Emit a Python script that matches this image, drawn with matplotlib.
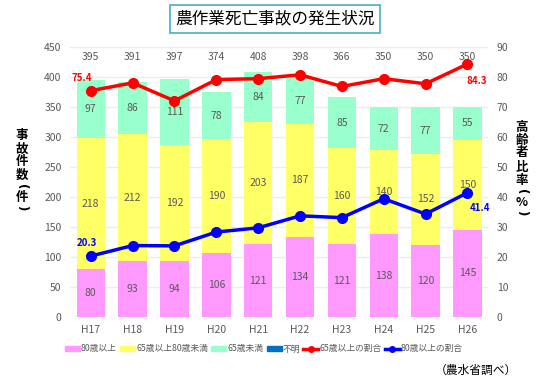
import matplotlib
matplotlib.use("Agg")
import matplotlib.pyplot as plt
from matplotlib.patches import Patch
from matplotlib.lines import Line2D
import numpy as np

plt.rcParams['font.family'] = ['Noto Sans CJK JP', 'DejaVu Sans']

years = ['H17', 'H18', 'H19', 'H20', 'H21', 'H22', 'H23', 'H24', 'H25', 'H26']
over80 = [80, 93, 94, 106, 121, 134, 121, 138, 120, 145]
age65_80 = [218, 212, 192, 190, 203, 187, 160, 140, 152, 150]
under65 = [97, 86, 111, 78, 84, 77, 85, 72, 77, 55]
unknown = [0, 0, 0, 0, 0, 0, 0, 0, 1, 0]
totals = [395, 391, 397, 374, 408, 398, 366, 350, 350, 350]
ratio65 = [75.4, 78.0, 72.0, 79.1, 79.4, 80.7, 76.8, 79.4, 77.7, 84.3]
ratio80 = [20.3, 23.8, 23.7, 28.3, 29.7, 33.7, 33.1, 39.4, 34.3, 41.4]

c_pink = '#FF99FF'
c_yel = '#FFFF66'
c_mint = '#99FFCC'
c_unk = '#0070C0'
c_red = '#FF0000'
c_blue = '#0000FF'
lab_col = '#595959'

W, H = 550, 381
fig = plt.figure(figsize=(5.5, 3.81), dpi=100)
ax = fig.add_axes([0.127, 0.168, 0.761, 0.709])
ax2 = ax.twinx()

x = np.arange(len(years))
w = 0.68
b1 = np.array(over80)
b2 = b1 + np.array(age65_80)
b3 = b2 + np.array(under65)
ax.bar(x, over80, w, color=c_pink, zorder=2)
ax.bar(x, age65_80, w, bottom=b1, color=c_yel, zorder=2)
ax.bar(x, under65, w, bottom=b2, color=c_mint, zorder=2)
ax.bar(x, unknown, w, bottom=b3, color=c_unk, zorder=2)

for i in range(len(years)):
    ax.text(x[i], over80[i] / 2, str(over80[i]), ha='center', va='center', fontsize=7.5, color=lab_col, zorder=5)
    ax.text(x[i], b1[i] + age65_80[i] / 2, str(age65_80[i]), ha='center', va='center', fontsize=7.5, color=lab_col, zorder=5)
    ax.text(x[i], b2[i] + under65[i] / 2, str(under65[i]), ha='center', va='center', fontsize=7.5, color=lab_col, zorder=5)
    ax.text(x[i], 433, str(totals[i]), ha='center', va='center', fontsize=7.5, color=lab_col, zorder=5)

ax.set_ylim(0, 450)
ax.set_yticks(range(0, 451, 50))
ax.set_xlim(-0.5, len(years) - 0.5)
ax.set_xticks(x)
ax.set_xticklabels(years)
ax.grid(axis='y', color='#ECECEC', linewidth=1, zorder=0)
ax.set_axisbelow(True)
for s in ax.spines.values():
    s.set_visible(False)
for s in ax2.spines.values():
    s.set_visible(False)
ax.tick_params(axis='both', length=0, labelsize=7.5, labelcolor=lab_col, pad=6)

ax2.set_ylim(0, 90)
ax2.set_yticks(range(0, 91, 10))
ax2.tick_params(axis='y', length=0, labelsize=7.5, labelcolor=lab_col, pad=6)

ax2.plot(x, ratio65, color=c_red, lw=2.5, marker='o', ms=7, zorder=6)
ax2.plot(x, ratio80, color=c_blue, lw=2.5, marker='o', ms=7, zorder=6)

def ann(val, xi, yi, off, col):
    ax2.annotate(f'{val}', xy=(xi, yi), xytext=off, textcoords='offset points',
                 ha='center', va='center', fontsize=7, color=col, fontweight='bold',
                 arrowprops=dict(arrowstyle='-', color='#BBBBBB', lw=0.6, shrinkA=2, shrinkB=3))

ann(ratio65[0], x[0], ratio65[0], (-6.5, 9), c_red)
ann(ratio65[-1], x[-1], ratio65[-1], (7, -12), c_red)
ann(ratio80[0], x[0], ratio80[0], (-3, 9.5), c_blue)
ann(ratio80[-1], x[-1], ratio80[-1], (9, -11), c_blue)

# vertical axis titles (stacked characters)
def vchar(ch, xx, yy):
    if ch in '()':
        fig.text(xx / W, 1 - yy / H, ch, ha='center', va='center', fontsize=8.5,
                 fontweight='bold', rotation=-90, family='DejaVu Sans')
    else:
        fig.text(xx / W, 1 - yy / H, ch, ha='center', va='center', fontsize=9,
                 fontweight='bold')

left_chars = [('事', 135), ('故', 149), ('件', 162), ('数', 175), ('(', 187), ('件', 197), (')', 208)]
for ch, yy in left_chars:
    vchar(ch, 22, yy)
right_chars = [('高', 127), ('齢', 140), ('者', 153), ('比', 167), ('率', 180), ('(', 192), ('%', 203), (')', 213)]
for ch, yy in right_chars:
    vchar(ch, 522, yy)

# title
fig.text(275 / W, 1 - 19 / H, '農作業死亡事故の発生状況', ha='center', va='center', fontsize=12,
         bbox=dict(boxstyle='square,pad=0.32', fc='white', ec='#4BACC6', lw=1.2))

# legend
handles = [
    Patch(color=c_pink, label='80歳以上'),
    Patch(color=c_yel, label='65歳以上80歳未満'),
    Patch(color=c_mint, label='65歳未満'),
    Patch(color=c_unk, label='不明'),
    Line2D([0], [0], color=c_red, lw=2.5, marker='o', ms=4, label='65歳以上の割合'),
    Line2D([0], [0], color=c_blue, lw=2.5, marker='o', ms=4, label='80歳以上の割合'),
]
fig.legend(handles=handles, loc='center', bbox_to_anchor=(264 / W, 1 - 349 / H), ncol=6, frameon=False,
           fontsize=6.3, handlelength=1.7, handleheight=0.55, handletextpad=0.1, columnspacing=0.4,
           labelcolor=lab_col)

fig.text(517 / W, 1 - 370 / H, '（農水省調べ）', ha='right', va='center', fontsize=8.5)

fig.savefig('out.png', dpi=100)
